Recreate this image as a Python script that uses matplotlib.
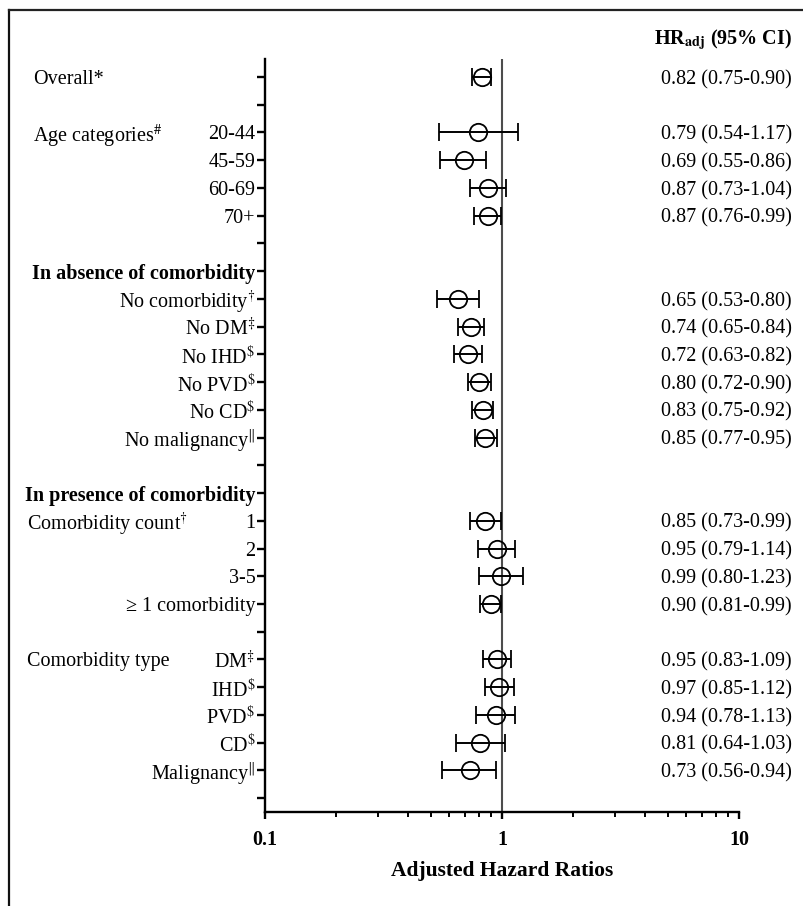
import numpy as np
import matplotlib
matplotlib.use("Agg")
import matplotlib.pyplot as plt
from matplotlib.lines import Line2D
import matplotlib.transforms as mtransforms

plt.rcParams['font.family'] = ['Liberation Serif', 'DejaVu Serif']
plt.rcParams['mathtext.fontset'] = 'stix'

# rows from top to bottom ('' = blank spacer row)
row_labels = ['', '', '20-44', '45-59', '60-69', '70+', '',
              'In absence of comorbidity',
              r'No comorbidity$^{\dagger}$', r'No DM$^{\ddagger}$', r'No IHD$^{\$}$',
              r'No PVD$^{\$}$', r'No CD$^{\$}$', r'No malignancy$^{\Vert}$', '',
              'In presence of comorbidity',
              '1', '2', '3-5', '\u2265 1 comorbidity', '',
              r'DM$^{\ddagger}$', r'IHD$^{\$}$', r'PVD$^{\$}$', r'CD$^{\$}$',
              r'Malignancy$^{\Vert}$', '']
bold_rows = [7, 15]

hr = [0.82, None, 0.79, 0.69, 0.87, 0.87, None, None,
      0.65, 0.74, 0.72, 0.80, 0.83, 0.85, None, None,
      0.85, 0.95, 0.99, 0.90, None,
      0.95, 0.97, 0.94, 0.81, 0.73, None]
lo = [0.75, None, 0.54, 0.55, 0.73, 0.76, None, None,
      0.53, 0.65, 0.63, 0.72, 0.75, 0.77, None, None,
      0.73, 0.79, 0.80, 0.81, None,
      0.83, 0.85, 0.78, 0.64, 0.56, None]
hi = [0.90, None, 1.17, 0.86, 1.04, 0.99, None, None,
      0.80, 0.84, 0.82, 0.90, 0.92, 0.95, None, None,
      0.99, 1.14, 1.23, 0.99, None,
      1.09, 1.12, 1.13, 1.03, 0.94, None]

# group labels on the far left: (row, text, x in pixels)
group_labels = [(0, 'Overall*', 33), (2, r'Age categories$^{\#}$', 33),
                (16, r'Comorbidity count$^{\dagger}$', 27), (21, 'Comorbidity type', 27)]

W, H = 804, 906
fig = plt.figure(figsize=(W / 100, H / 100), dpi=100)
ax = fig.add_axes([265 / W, 1 - 812 / H, (739 - 265) / W, (812 - 59) / H])

n = len(row_labels)
y = np.arange(n)
idx = [i for i in range(n) if hr[i] is not None]
h = np.array([hr[i] for i in idx])
l = np.array([lo[i] for i in idx])
u = np.array([hi[i] for i in idx])

ax.axvline(1, color='#4d4d4d', lw=1.5, zorder=1)
ax.errorbar(h, y[idx], xerr=[h - l, u - h], fmt='o', color='black',
            mfc='none', mec='black', ms=12.5, mew=1.3, elinewidth=1.4,
            capsize=6.5, capthick=1.4, zorder=3)

ax.set_xscale('log')
ax.set_xlim(0.1, 10)
ax.set_ylim(26.5, -0.65)
ax.set_xticks([0.1, 1, 10])
ax.set_xticklabels(['0.1', '1', '10'], fontweight='bold', fontsize=14.5)
ax.set_yticks(y)
ax.set_yticklabels(row_labels, fontsize=14.5)
for i in bold_rows:
    ax.get_yticklabels()[i].set_fontweight('bold')

for s in ['top', 'right']:
    ax.spines[s].set_visible(False)
for s in ['left', 'bottom']:
    ax.spines[s].set_linewidth(1.7)
ax.tick_params(axis='y', length=6, width=1.7, pad=1)
ax.tick_params(axis='x', which='major', length=5, width=1.7, pad=8)
ax.tick_params(axis='x', which='minor', length=3.5, width=1.4)
ax.set_xlabel('Adjusted Hazard Ratios', fontweight='bold', fontsize=15.5, labelpad=8)

trans = mtransforms.blended_transform_factory(fig.transFigure, ax.transData)
for r, txt, xpx in group_labels:
    ax.text(xpx / W, r, txt, transform=trans, ha='left', va='center_baseline', fontsize=14.5)

for i in idx:
    ax.text(792 / W, i, f'{hr[i]:.2f} ({lo[i]:.2f}-{hi[i]:.2f})', transform=trans,
            ha='right', va='center_baseline', fontsize=14.5)
fig.text(792 / W, 1 - 40 / H, r'HR$_{\mathbf{adj}}$ (95% CI)', ha='right', va='center',
         fontsize=14.5, fontweight='bold')

# outer frame (only left and top edges visible)
fig.add_artist(Line2D([8.5 / W, 8.5 / W], [0, 1 - 9.5 / H], color='#111111', lw=1.6,
                      transform=fig.transFigure))
fig.add_artist(Line2D([8.5 / W, 1], [1 - 9.5 / H, 1 - 9.5 / H], color='#222222', lw=1.6,
                      transform=fig.transFigure))

fig.savefig('out.png', dpi=100)
